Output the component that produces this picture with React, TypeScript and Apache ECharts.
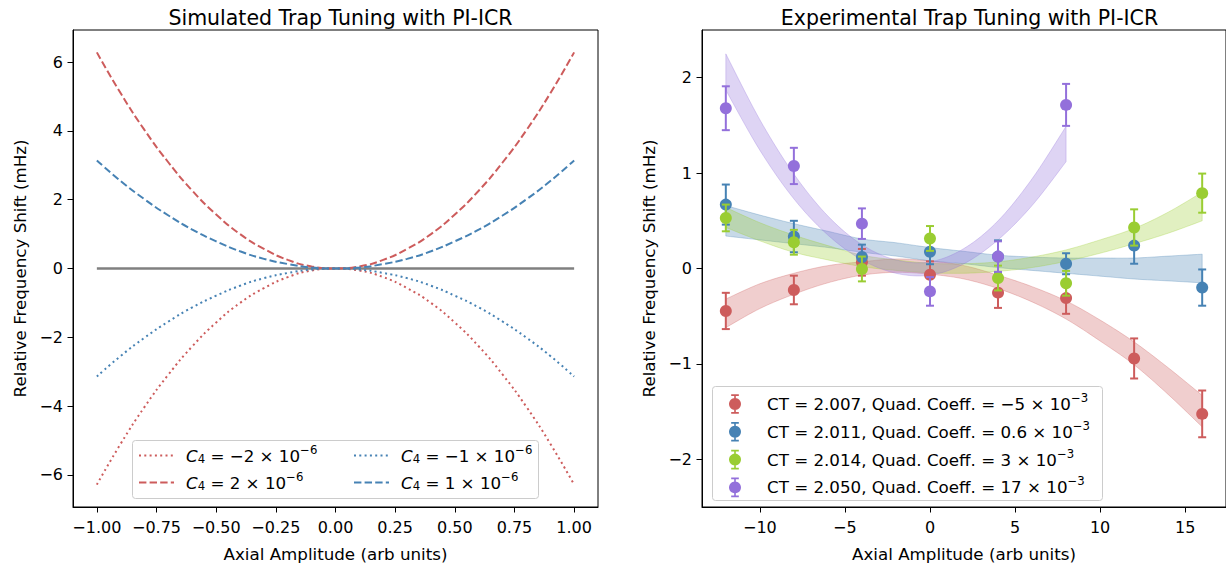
import React, { useEffect, useRef } from 'react';
import * as echarts from 'echarts';

// ---------- Left panel: simulated curves ----------
const simX = [-1, -0.9, -0.8, -0.7, -0.6, -0.5, -0.4, -0.3, -0.2, -0.1, 0, 0.1, 0.2, 0.3, 0.4, 0.5, 0.6, 0.7, 0.8, 0.9, 1];
const simPos2 = [6.28, 5.09, 4.02, 3.08, 2.26, 1.57, 1.0, 0.57, 0.25, 0.06, 0, 0.06, 0.25, 0.57, 1.0, 1.57, 2.26, 3.08, 4.02, 5.09, 6.28];
const simNeg2 = [-6.28, -5.09, -4.02, -3.08, -2.26, -1.57, -1.0, -0.57, -0.25, -0.06, 0, -0.06, -0.25, -0.57, -1.0, -1.57, -2.26, -3.08, -4.02, -5.09, -6.28];
const simPos1 = [3.14, 2.54, 2.01, 1.54, 1.13, 0.79, 0.5, 0.28, 0.13, 0.03, 0, 0.03, 0.13, 0.28, 0.5, 0.79, 1.13, 1.54, 2.01, 2.54, 3.14];
const simNeg1 = [-3.14, -2.54, -2.01, -1.54, -1.13, -0.79, -0.5, -0.28, -0.13, -0.03, 0, -0.03, -0.13, -0.28, -0.5, -0.79, -1.13, -1.54, -2.01, -2.54, -3.14];
const simZeroX = [-1, 1];
const simZeroY = [0, 0];
const simCoeffs = ['−2', '2', '−1', '1'];
const simXTicks = [-1, -0.75, -0.5, -0.25, 0, 0.25, 0.5, 0.75, 1];
const simYTicks = [-6, -4, -2, 0, 2, 4, 6];

// ---------- Right panel: experimental data ----------
const expX = [-12, -8, -4, 0, 4, 8, 12, 16];
const expXPurple = [-12, -8, -4, 0, 4, 8];
const redY = [-0.445, -0.225, 0.065, -0.065, -0.253, -0.31, -0.943, -1.524];
const redErr = [0.19, 0.15, 0.14, 0.14, 0.16, 0.165, 0.21, 0.245];
const blueY = [0.67, 0.335, 0.12, 0.175, 0.125, 0.05, 0.24, -0.2];
const blueErr = [0.21, 0.165, 0.13, 0.13, 0.17, 0.11, 0.19, 0.19];
const greenY = [0.53, 0.275, -0.005, 0.315, -0.1, -0.155, 0.43, 0.79];
const greenErr = [0.14, 0.13, 0.13, 0.13, 0.13, 0.13, 0.19, 0.205];
const purpleY = [1.68, 1.075, 0.47, -0.24, 0.125, 1.715];
const purpleErr = [0.23, 0.19, 0.16, 0.15, 0.16, 0.22];

const bandX = [-12, -10, -8, -6, -4, -2, 0, 2, 4, 6, 8, 10, 12, 14, 16];
const bandXPurple = [-12, -10, -8, -6, -4, -2, 0, 2, 4, 6, 8];
const redLow = [-0.62, -0.42, -0.27, -0.15, -0.07, -0.04, -0.06, -0.11, -0.21, -0.35, -0.53, -0.76, -1.01, -1.32, -1.66];
const redHigh = [-0.32, -0.16, -0.05, 0.03, 0.07, 0.1, 0.08, 0.03, -0.07, -0.19, -0.34, -0.54, -0.77, -1.04, -1.33];
const blueLow = [0.34, 0.3, 0.26, 0.22, 0.17, 0.13, 0.08, 0.05, 0.01, -0.02, -0.05, -0.08, -0.11, -0.13, -0.15];
const blueHigh = [0.66, 0.56, 0.47, 0.39, 0.31, 0.27, 0.22, 0.18, 0.14, 0.12, 0.11, 0.11, 0.11, 0.13, 0.15];
const greenLow = [0.43, 0.29, 0.17, 0.09, 0.02, -0.02, -0.045, -0.05, -0.03, 0.01, 0.075, 0.16, 0.26, 0.37, 0.5];
const greenHigh = [0.64, 0.48, 0.35, 0.24, 0.14, 0.09, 0.055, 0.05, 0.07, 0.12, 0.195, 0.3, 0.42, 0.59, 0.8];
const purpleLow = [1.87, 1.24, 0.73, 0.35, 0.09, -0.05, -0.07, 0.05, 0.3, 0.66, 1.12];
const purpleHigh = [2.25, 1.56, 0.99, 0.55, 0.25, 0.09, 0.07, 0.21, 0.5, 0.94, 1.49];

const ctValues = ['2.007', '2.011', '2.014', '2.050'];
const quadCoeffs = ['−5', '0.6', '3', '17'];
const expXTicks = [-10, -5, 0, 5, 10, 15];
const expYTicks = [-2, -1, 0, 1, 2];

const RED = '#CD5C5C';
const BLUE = '#4682B4';
const GREEN = '#9ACD32';
const PURPLE = '#9370DB';
const FONT = 'DejaVu Sans';
const TICK_FS = 16;
const LABEL_FS = 16.7;
const TITLE_FS = 20.5;
const SMALL_FS = 11.7;

const fmtNum = (v: number, d: number) => (v < 0 ? '\u2212' : '') + Math.abs(v).toFixed(d);
const zip = (xs: number[], ys: number[]) => xs.map((x, i) => [x, ys[i]]);
const rgba = (hex: string, a: number) => {
  const n = parseInt(hex.slice(1), 16);
  return `rgba(${(n >> 16) & 255},${(n >> 8) & 255},${n & 255},${a})`;
};

const simNames = simCoeffs.map((c) => `C4 = ${c} × 10^−6`);
const expNames = ctValues.map((ct, i) => `CT = ${ct}, Quad. Coeff. = ${quadCoeffs[i]} × 10^−3`);

const errIcon =
  'path://M5.25,1H6.75V19H5.25Z M2.5,1H9.5V2.6H2.5Z M2.5,17.4H9.5V19H2.5Z M6,4.5A5.5,5.5,0,1,1,5.99,4.5Z';

// Catmull-Rom smoothing of pixel points (drawing only)
function spline(p: number[][]) {
  const out: number[][] = [];
  const n = p.length;
  for (let i = 0; i < n - 1; i++) {
    const p0 = p[Math.max(i - 1, 0)];
    const p1 = p[i];
    const p2 = p[i + 1];
    const p3 = p[Math.min(i + 2, n - 1)];
    for (let s = 0; s < 10; s++) {
      const t = s / 10;
      const t2 = t * t;
      const t3 = t2 * t;
      const f = (k: number) =>
        0.5 *
        (2 * p1[k] +
          (-p0[k] + p2[k]) * t +
          (2 * p0[k] - 5 * p1[k] + 4 * p2[k] - p3[k]) * t2 +
          (-p0[k] + 3 * p1[k] - 3 * p2[k] + p3[k]) * t3);
      out.push([f(0), f(1)]);
    }
  }
  out.push(p[n - 1]);
  return out;
}

function axisCommon(ticks: number[], digits: number, isX: boolean) {
  return {
    type: 'value' as const,
    splitLine: { show: false },
    axisLine: { show: true, onZero: false, lineStyle: { color: '#000', width: 1 } },
    axisTick: { show: true, length: 5.5, lineStyle: { color: '#000', width: 1 }, customValues: ticks },
    axisLabel: {
      color: '#000',
      fontSize: TICK_FS,
      fontFamily: FONT,
      margin: isX ? 12 : 10,
      customValues: ticks,
      formatter: (v: number) => fmtNum(v, digits),
    },
    nameLocation: 'middle' as const,
    nameTextStyle: { color: '#000', fontSize: LABEL_FS, fontFamily: FONT },
  };
}

function bandSeries(name: string, xs: number[], lo: number[], hi: number[], color: string) {
  return {
    type: 'custom',
    name,
    xAxisIndex: 1,
    yAxisIndex: 1,
    silent: true,
    encode: { x: 0, y: [1, 2] },
    data: xs.map((x, i) => [x, lo[i], hi[i]]),
    renderItem: (params: any, api: any) => {
      if (params.dataIndex !== 0) return null;
      const upper = spline(xs.map((x, i) => api.coord([x, hi[i]])));
      const lower = spline(xs.map((x, i) => api.coord([x, lo[i]])));
      const pts = upper.concat(lower.slice().reverse());
      return {
        type: 'polygon',
        shape: { points: pts },
        style: { fill: rgba(color, 0.3), stroke: rgba(color, 0.3), lineWidth: 1 },
      };
    },
  };
}

function errSeries(name: string, xs: number[], ys: number[], es: number[], color: string) {
  return {
    type: 'custom',
    name,
    xAxisIndex: 1,
    yAxisIndex: 1,
    itemStyle: { color },
    encode: { x: 0, y: 1 },
    data: xs.map((x, i) => [x, ys[i], es[i]]),
    renderItem: (params: any, api: any) => {
      const x = api.value(0);
      const y = api.value(1);
      const e = api.value(2);
      const c = api.coord([x, y]);
      const t = api.coord([x, y + e]);
      const b = api.coord([x, y - e]);
      const st = { stroke: color, lineWidth: 2 };
      return {
        type: 'group',
        children: [
          { type: 'line', shape: { x1: c[0], y1: t[1], x2: c[0], y2: b[1] }, style: st },
          { type: 'line', shape: { x1: c[0] - 4, y1: t[1], x2: c[0] + 4, y2: t[1] }, style: st },
          { type: 'line', shape: { x1: c[0] - 4, y1: b[1], x2: c[0] + 4, y2: b[1] }, style: st },
          { type: 'circle', shape: { cx: c[0], cy: c[1], r: 6 }, style: { fill: color } },
        ],
      };
    },
  };
}

function simLine(name: string, ys: number[], color: string, dash: number[]) {
  return {
    type: 'line',
    name,
    xAxisIndex: 0,
    yAxisIndex: 0,
    data: zip(simX, ys),
    symbol: 'none',
    smooth: true,
    silent: true,
    lineStyle: { color, width: 2, type: dash, cap: 'butt' },
    itemStyle: { color },
  };
}

const richBase = {
  sp: { width: 7, lineHeight: 20 },
  n: { fontSize: LABEL_FS, fontFamily: FONT, color: '#000', lineHeight: 20 },
  i: { fontSize: LABEL_FS, fontFamily: FONT, color: '#000', fontStyle: 'italic', lineHeight: 20 },
  sub: { fontSize: SMALL_FS, fontFamily: FONT, color: '#000', padding: [7, 0, 0, 0], lineHeight: 20 },
  sup: { fontSize: SMALL_FS, fontFamily: FONT, color: '#000', padding: [0, 0, 12, 0], lineHeight: 20 },
};

const simLegend = (names: string[], left: number) => ({
  data: names,
  orient: 'vertical',
  left,
  top: 438.5,
  itemWidth: 35,
  itemHeight: 14,
  itemGap: 3,
  selectedMode: false,
  itemStyle: { color: 'rgba(0,0,0,0)', borderColor: 'rgba(0,0,0,0)', borderWidth: 0 },
  textStyle: { rich: richBase },
  formatter: (name: string) => {
    const k = simNames.indexOf(name);
    return `{sp| }{i|C}{sub|4}{n| = ${simCoeffs[k]} × 10}{sup|−6}`;
  },
});

export default function App() {
  const ref = useRef<HTMLDivElement>(null);
  useEffect(() => {
    if (!ref.current) return;
    const chart = echarts.init(ref.current, undefined, { renderer: 'svg' });
    const titleStyle = { fontSize: TITLE_FS, fontWeight: 'normal', fontFamily: FONT, color: '#000' };
    const option: any = {
      animation: false,
      backgroundColor: '#fff',
      textStyle: { fontFamily: FONT },
      title: [
        { text: 'Simulated Trap Tuning with PI-ICR', left: 335.5, top: 2, textAlign: 'center', textStyle: titleStyle },
        { text: 'Experimental Trap Tuning with PI-ICR', left: 964.5, top: 2, textAlign: 'center', textStyle: titleStyle },
      ],
      grid: [
        { left: 73, top: 30, width: 525, height: 479, show: true, borderColor: '#000', borderWidth: 1 },
        { left: 702, top: 30, width: 525, height: 479, show: true, borderColor: '#000', borderWidth: 1 },
      ],
      xAxis: [
        { ...axisCommon(simXTicks, 2, true), gridIndex: 0, min: -1.1, max: 1.1, name: 'Axial Amplitude (arb units)', nameGap: 38 },
        { ...axisCommon(expXTicks, 0, true), gridIndex: 1, min: -13.4, max: 17.4, name: 'Axial Amplitude (arb units)', nameGap: 38 },
      ],
      yAxis: [
        { ...axisCommon(simYTicks, 0, false), gridIndex: 0, min: -6.93, max: 6.93, name: 'Relative Frequency Shift (mHz)', nameGap: 45 },
        { ...axisCommon(expYTicks, 0, false), gridIndex: 1, min: -2.5, max: 2.5, name: 'Relative Frequency Shift (mHz)', nameGap: 45 },
      ],
      legend: [
        simLegend([simNames[0], simNames[1]], 133),
        simLegend([simNames[2], simNames[3]], 348),
        {
          data: expNames.map((n) => ({ name: n, icon: errIcon })),
          orient: 'vertical',
          left: 724,
          top: 387,
          itemWidth: 12,
          itemHeight: 20,
          itemGap: 3.8,
          symbolKeepAspect: true,
          selectedMode: false,
          textStyle: { rich: { ...richBase, sp: { width: 21, lineHeight: 20 } } },
          formatter: (name: string) => {
            const k = expNames.indexOf(name);
            return `{sp| }{n|CT = ${ctValues[k]}, Quad. Coeff. = ${quadCoeffs[k]} × 10}{sup|−3}`;
          },
        },
      ],
      graphic: [
        {
          type: 'rect',
          z: 3,
          shape: { x: 132.5, y: 440.5, width: 406, height: 58, r: 3 },
          style: { fill: 'rgba(255,255,255,0.8)', stroke: '#cccccc', lineWidth: 1 },
        },
        {
          type: 'rect',
          z: 3,
          shape: { x: 712.5, y: 386.5, width: 390, height: 114, r: 3 },
          style: { fill: 'rgba(255,255,255,0.8)', stroke: '#cccccc', lineWidth: 1 },
        },
      ],
      series: [
        {
          type: 'line',
          name: 'C4 = 0',
          xAxisIndex: 0,
          yAxisIndex: 0,
          data: zip(simZeroX, simZeroY),
          symbol: 'none',
          silent: true,
          lineStyle: { color: '#808080', width: 2.5 },
        },
        simLine(simNames[0], simNeg2, RED, [2, 3.3]),
        simLine(simNames[1], simPos2, RED, [7.4, 3.2]),
        simLine(simNames[2], simNeg1, BLUE, [2, 3.3]),
        simLine(simNames[3], simPos1, BLUE, [7.4, 3.2]),
        bandSeries('red band', bandX, redLow, redHigh, RED),
        bandSeries('blue band', bandX, blueLow, blueHigh, BLUE),
        bandSeries('green band', bandX, greenLow, greenHigh, GREEN),
        bandSeries('purple band', bandXPurple, purpleLow, purpleHigh, PURPLE),
        errSeries(expNames[0], expX, redY, redErr, RED),
        errSeries(expNames[1], expX, blueY, blueErr, BLUE),
        errSeries(expNames[2], expX, greenY, greenErr, GREEN),
        errSeries(expNames[3], expXPurple, purpleY, purpleErr, PURPLE),
      ],
    };
    chart.setOption(option);
    return () => chart.dispose();
  }, []);
  return (
    <div
      ref={ref}
      style={{ position: 'fixed', left: 0, top: 0, width: 1226, height: 567, background: '#fff' }}
    />
  );
}
